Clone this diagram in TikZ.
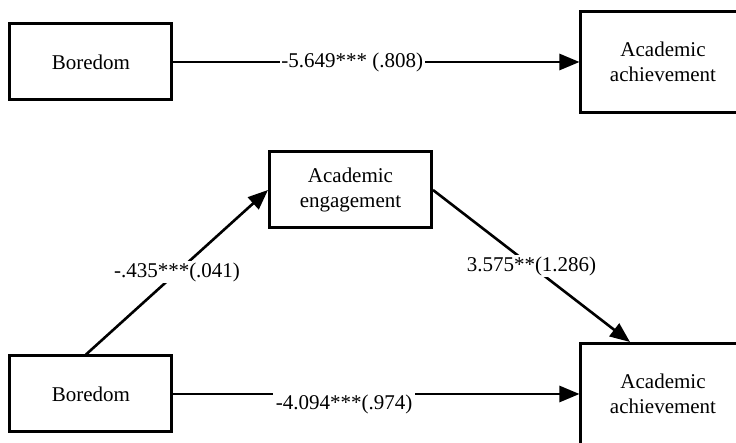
\documentclass[tikz,border=0pt]{standalone}
\usepackage{fontspec}
\setmainfont{Liberation Serif}
\usetikzlibrary{positioning}
\usetikzlibrary{arrows.meta}
\pgfdeclarelayer{nodelayer}
\pgfdeclarelayer{edgelayer}
\pgfsetlayers{nodelayer,edgelayer,main}
\tikzset{
  varbox/.style={draw, line width=1.5pt, fill=white, align=center,
    minimum width=81pt, minimum height=38pt, inner sep=2pt},
  outbox/.style={varbox, minimum width=82pt, minimum height=50.5pt},
  effect/.style={-{Triangle[length=10pt, width=8pt]}, line width=1.3pt},
  coef/.style={fill=white, inner sep=0.8pt}
}

\begin{document}
\begin{tikzpicture}[x=0.5pt, y=-0.5pt, font=\fontsize{10.5}{12.5}\selectfont]
  \useasboundingbox (0, 0) rectangle (736, 443);
  \begin{pgfonlayer}{nodelayer}
    \node [varbox] (0) at (91, 62) {Boredom};
    \node [outbox] (1) at (663, 62) {Academic\\achievement};
    \node [varbox] (2) at (350.5, 190) {Academic\\engagement};
    \node [varbox] (3) at (91, 394) {Boredom};
    \node [outbox] (4) at (663, 394) {Academic\\achievement};
  \end{pgfonlayer}
  \begin{pgfonlayer}{edgelayer}
    \draw [effect] (0) to node [coef, pos=0.44] {-5.649*** (.808)} (1);
    \draw [effect] ([xshift=-2.5pt]3.north) to node [coef, pos=0.5] {-.435***(.041)} (2.west);
    \draw [effect] (2.east) to node [coef, pos=0.5] {3.575**(1.286)} ([xshift=-16.5pt]4.north);
    \draw [effect] (3) to node [coef, pos=0.42, inner sep=1.5pt, yshift=-5pt] {-4.094***(.974)} (4);
  \end{pgfonlayer}
\end{tikzpicture}
\end{document}
